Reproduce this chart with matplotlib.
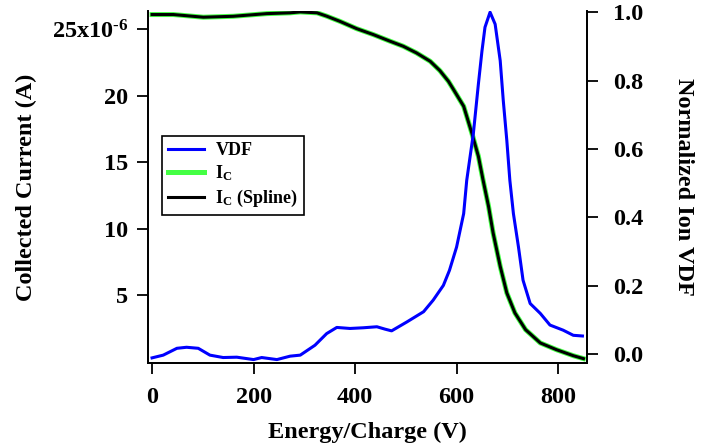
import matplotlib
matplotlib.use("Agg")
import matplotlib.pyplot as plt
from matplotlib.lines import Line2D
from matplotlib.ticker import FixedLocator, FixedFormatter

plt.rcParams["font.family"] = ["Liberation Serif", "DejaVu Serif"]
plt.rcParams["font.weight"] = "bold"
plt.rcParams["mathtext.fontset"] = "custom"
plt.rcParams["mathtext.rm"] = "Liberation Serif:bold"
plt.rcParams["mathtext.bf"] = "Liberation Serif:bold"
plt.rcParams["mathtext.it"] = "Liberation Serif:bold"

# ── data ─────────────────────────────────────────────────────────────────────
vdf_energy = [0, 22, 49, 68, 91, 114, 140, 167, 200, 216, 246, 272, 292, 321,
              344, 364, 390, 416, 443, 459, 472, 502, 535, 554, 574, 586, 600,
              614, 620, 633, 643, 650, 656, 666, 676, 686, 692, 699, 705, 712,
              722, 731, 745, 765, 784, 810, 830, 848]
vdf_norm = [-0.011, -0.003, 0.017, 0.02, 0.017, -0.003, -0.01, -0.009, -0.016,
            -0.01, -0.016, -0.006, -0.003, 0.026, 0.06, 0.078, 0.075, 0.077,
            0.08, 0.073, 0.068, 0.094, 0.124, 0.158, 0.201, 0.245, 0.313,
            0.411, 0.508, 0.644, 0.79, 0.886, 0.956, 1.0, 0.965, 0.858, 0.742,
            0.625, 0.508, 0.411, 0.313, 0.216, 0.148, 0.119, 0.085, 0.07,
            0.055, 0.053]

ic_energy = [0, 42, 101, 160, 226, 272, 292, 325, 344, 370, 403, 436, 469, 495,
             521, 548, 567, 584, 594, 614, 630, 643, 652, 663, 672, 686, 699,
             715, 736, 765, 797, 830, 850]
ic_micro = [26.12, 26.12, 25.92, 25.99, 26.19, 26.25, 26.32, 26.25, 26.0,
            25.61, 25.06, 24.61, 24.11, 23.73, 23.23, 22.60, 21.90, 21.09,
            20.47, 19.21, 17.20, 15.44, 13.69, 11.67, 9.67, 7.15, 5.15, 3.64,
            2.38, 1.38, 0.87, 0.42, 0.20]

x_ticks = [0, 200, 400, 600, 800]
left_ticks = [5, 10, 15, 20, 25]
left_labels = ["5", "10", "15", "20", "25x10$^{\u2010 6}$"]
right_ticks = [0.0, 0.2, 0.4, 0.6, 0.8, 1.0]

BLUE = "#0000ff"
GREEN = "#44ff44"

fig = plt.figure(figsize=(7.01, 4.48), dpi=100)
ax = fig.add_axes([148 / 701, 85 / 448, 439 / 701, 351.5 / 448])
ax2 = ax.twinx()

ax.plot(ic_energy, ic_micro, color=GREEN, lw=3.6, zorder=2)
ax.plot(ic_energy, ic_micro, color="black", lw=2.2, zorder=3)
ax2.plot(vdf_energy, vdf_norm, color=BLUE, lw=2.2, zorder=3)

ax.set_xlim(-8, 857)
ax.set_ylim(-0.13, 26.35)
ax2.set_ylim(-0.026, 1.002)

for a in (ax, ax2):
    a.spines["top"].set_visible(False)
    for s in a.spines.values():
        s.set_linewidth(1.3)

ax.xaxis.set_major_locator(FixedLocator(x_ticks))
ax.yaxis.set_major_locator(FixedLocator(left_ticks))
ax.yaxis.set_major_formatter(FixedFormatter(left_labels))
ax2.yaxis.set_major_locator(FixedLocator(right_ticks))
ax2.set_yticklabels([f"{t:.1f}" for t in right_ticks])

ax.tick_params(axis="x", direction="out", length=8, width=1.3, labelsize=17.5, pad=9)
ax.tick_params(axis="y", direction="out", length=8, width=1.3, labelsize=17.5, pad=6)
ax2.tick_params(axis="y", direction="out", length=8, width=1.3, labelsize=17.5, pad=11)

ax.set_xlabel("Energy/Charge (V)", fontsize=17.5, fontweight="bold", labelpad=10)
ax.set_ylabel("Collected Current (A)", fontsize=17.5, fontweight="bold")
ax.yaxis.set_label_coords(-0.253, 0.5)
ax2.set_ylabel("Normalized Ion VDF", fontsize=17.5, fontweight="bold", rotation=270)
ax2.yaxis.set_label_coords(1.243, 0.5)

handles = [
    Line2D([], [], color=BLUE, lw=2.2, label="VDF"),
    Line2D([], [], color=GREEN, lw=3.6, label="I$_C$"),
    Line2D([], [], color="black", lw=2.2, label="I$_C$ (Spline)"),
]
leg = ax2.legend(handles=handles, loc="upper left", bbox_to_anchor=(0.032, 0.646),
                 borderaxespad=0, fancybox=False, framealpha=1, edgecolor="black",
                 fontsize=13, handlelength=2.0, handletextpad=0.6,
                 labelspacing=0.25, borderpad=0.35)
leg.get_frame().set_linewidth(1.2)

fig.savefig("out.png", dpi=100)
